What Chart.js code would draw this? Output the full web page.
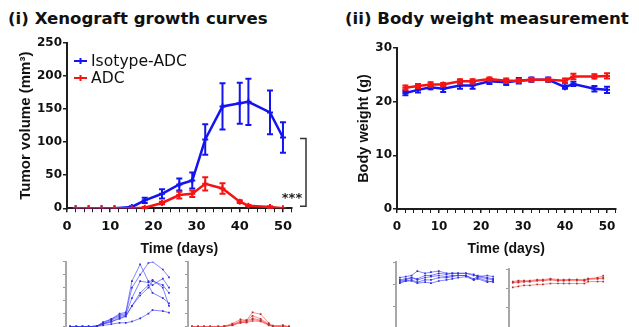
<!DOCTYPE html>
<html>
<head>
<meta charset="utf-8">
<script src="https://cdn.jsdelivr.net/npm/chart.js@4.4.0/dist/chart.umd.min.js"></script>
<style>
  html, body { margin: 0; padding: 0; background: #fff; overflow: hidden; }
  body { width: 639px; height: 327px; position: relative; }
  canvas { position: absolute; }
  .title { position: absolute; font-family: "DejaVu Sans"; font-weight: bold; font-size: 16.6px; line-height: 20px; white-space: nowrap; color: #111; }
</style>
</head>
<body>
<div class="title" style="left:8px;top:9px;">(i) Xenograft growth curves</div>
<div class="title" style="left:345px;top:9px;">(ii) Body weight measurement</div>
<canvas id="tumor" width="320" height="262" style="left:0;top:0"></canvas>
<canvas id="weight" width="319" height="262" style="left:320px;top:0"></canvas>
<canvas id="isoTumorThumb" width="130" height="90" style="left:56px;top:250px"></canvas>
<canvas id="adcTumorThumb" width="125" height="90" style="left:178px;top:250px"></canvas>
<canvas id="isoWeightThumb" width="115" height="90" style="left:386px;top:250px"></canvas>
<canvas id="adcWeightThumb" width="112" height="90" style="left:499px;top:250px"></canvas>
<script>
// measurement days
const days = [2, 5, 8, 11, 15, 18, 22, 26, 29, 32, 36, 40, 42, 47, 50];

// group means +/- SEM
const isoTumor    = [0, 0, 0, 0, 2, 12, 22, 36, 42, 104, 154, 159, 161, 145, 107];
const isoTumorErr = [0, 0, 0, 0, 1, 4, 7, 9, 12, 23, 35, 31, 35, 33, 23];
const adcTumor    = [0, 0, 0, 0, 0, 1, 8, 20, 22, 37, 30, 10, 4, 2, 0];
const adcTumorErr = [0, 0, 0, 0, 0, 1, 2, 5, 5, 10, 8, 2, 1, 1, 0];

const isoWeight    = [21.6, 22.2, 22.7, 22.4, 23.0, 23.0, 23.8, 23.6, 23.9, 24.1, 24.1, 22.7, 23.3, 22.4, 22.2];
const isoWeightErr = [0.4, 0.5, 0.4, 0.6, 0.6, 0.6, 0.5, 0.5, 0.5, 0.4, 0.4, 0.3, 0.4, 0.5, 0.6];
const adcWeight    = [22.6, 22.9, 23.2, 23.2, 23.8, 23.8, 24.2, 23.9, 23.9, 24.1, 24.1, 23.9, 24.7, 24.7, 24.8];
const adcWeightErr = [0.4, 0.4, 0.4, 0.3, 0.4, 0.4, 0.3, 0.4, 0.3, 0.3, 0.3, 0.4, 0.5, 0.4, 0.5];

// individual mice (small panels)
const isoTumorMice = [
  [0, 0, 0, 0, 3, 15, 30, 50, 55, 175, 240, 175, 160, 185, 150],
  [0, 0, 0, 0, 2, 18, 28, 45, 50, 150, 200, 245, 250, 220, 190],
  [0, 0, 0, 0, 2, 10, 25, 40, 45, 110, 175, 170, 180, 150, 80],
  [0, 0, 0, 0, 1, 12, 20, 30, 40, 80, 130, 160, 130, 110, 90],
  [0, 0, 0, 0, 2, 10, 18, 35, 40, 80, 120, 150, 175, 160, 130],
  [0, 0, 0, 0, 0, 5, 10, 15, 15, 20, 32, 50, 64, 60, 54]
];
const adcTumorMice = [
  [0, 0, 0, 0, 0, 2, 12, 28, 25, 55, 48, 14, 4, 2, 0],
  [0, 0, 0, 0, 0, 1, 8, 22, 24, 42, 30, 10, 2, 6, 0],
  [0, 0, 0, 0, 0, 0, 6, 18, 22, 32, 25, 8, 1, 1, 0],
  [0, 0, 0, 0, 0, 1, 8, 15, 18, 28, 22, 8, 2, 0, 0],
  [0, 0, 0, 0, 0, 0, 5, 16, 16, 22, 20, 5, 1, 0, 0]
];
const isoWeightMice = [
  [23.0, 23.5, 24.0, 26.0, 25.0, 25.5, 26.0, 25.0, 25.0, 25.0, 25.0, 24.5, 23.5, 24.0, 23.5],
  [22.0, 22.5, 23.0, 22.5, 24.0, 24.0, 25.0, 24.5, 25.0, 25.0, 25.0, 24.0, 24.0, 23.0, 22.5],
  [21.5, 22.0, 23.0, 22.0, 23.0, 23.5, 24.0, 23.5, 24.0, 24.0, 24.0, 22.5, 23.5, 22.5, 22.0],
  [21.0, 21.5, 22.0, 21.0, 22.0, 22.0, 23.0, 23.0, 23.5, 24.0, 24.0, 22.0, 23.0, 21.5, 21.0],
  [20.5, 21.5, 21.5, 20.5, 21.0, 20.5, 21.5, 22.0, 22.5, 23.0, 23.5, 22.0, 22.5, 21.0, 21.5]
];
const adcWeightMice = [
  [23.5, 24.0, 24.0, 24.0, 24.5, 24.5, 25.0, 24.5, 24.5, 24.5, 24.5, 24.5, 25.0, 25.5, 26.5],
  [23.0, 23.5, 23.5, 23.5, 24.0, 24.0, 24.5, 24.0, 24.0, 24.5, 24.5, 24.0, 25.0, 25.0, 25.5],
  [23.0, 23.0, 23.5, 23.5, 24.0, 24.0, 24.5, 24.0, 24.0, 24.0, 24.0, 24.0, 24.5, 25.0, 25.0],
  [20.5, 21.0, 21.5, 21.5, 22.0, 22.0, 22.5, 22.5, 22.5, 22.5, 22.5, 22.5, 23.5, 23.5, 23.5]
];

const groupLabels = ['Isotype-ADC', 'ADC'];
const BLUE = '#1414f0';
const RED = '#f51414';
const AXIS = '#1e1e1e';

const toPoints = vals => vals.map((v, i) => ({ x: days[i], y: v }));

// mean +/- SEM bars with caps
const errorBars = {
  id: 'errorBars',
  afterDatasetDraw(chart, args) {
    const ds = chart.data.datasets[args.index];
    if (!ds.errors) return;
    const { ctx, scales: { x, y } } = chart;
    ctx.save();
    ctx.strokeStyle = ds.borderColor;
    ctx.lineWidth = 2;
    ds.data.forEach((p, i) => {
      const e = ds.errors[i];
      if (!e) return;
      const px = x.getPixelForValue(p.x);
      const top = y.getPixelForValue(p.y + e);
      const bot = y.getPixelForValue(Math.max(0, p.y - e));
      ctx.beginPath();
      ctx.moveTo(px, top); ctx.lineTo(px, bot);
      ctx.moveTo(px - 3, top); ctx.lineTo(px + 3, top);
      ctx.moveTo(px - 3, bot); ctx.lineTo(px + 3, bot);
      ctx.stroke();
    });
    ctx.restore();
  }
};

// legend inside the plot, top left
const insetLegend = {
  id: 'insetLegend',
  afterDraw(chart, args, opts) {
    if (!opts.show) return;
    const ctx = chart.ctx;
    ctx.save();
    const order = [1, 0]; // Isotype-ADC first
    order.forEach((di, row) => {
      const ds = chart.data.datasets[di];
      const y = opts.y + row * opts.gap;
      ctx.strokeStyle = ds.borderColor;
      ctx.lineWidth = 2;
      ctx.beginPath();
      ctx.moveTo(opts.x, y); ctx.lineTo(opts.x + 13, y);
      ctx.moveTo(opts.x + 6.5, y - 3); ctx.lineTo(opts.x + 6.5, y + 3);
      ctx.stroke();
      ctx.fillStyle = '#111';
      ctx.font = '15.6px "DejaVu Sans"';
      ctx.textBaseline = 'middle';
      ctx.fillText(ds.label, opts.x + 17, y + 1);
    });
    ctx.restore();
  }
};

// significance bracket at the last time point
const sigBracket = {
  id: 'sigBracket',
  afterDraw(chart, args, opts) {
    if (!opts.show) return;
    const { ctx, scales: { y } } = chart;
    const top = y.getPixelForValue(isoTumor[isoTumor.length - 1]) + 1;
    const bot = y.getPixelForValue(adcTumor[adcTumor.length - 1] + 3);
    ctx.save();
    ctx.strokeStyle = '#333';
    ctx.lineWidth = 1.5;
    ctx.beginPath();
    ctx.moveTo(opts.x - 6, top); ctx.lineTo(opts.x, top);
    ctx.lineTo(opts.x, bot); ctx.lineTo(opts.x - 6, bot);
    ctx.stroke();
    ctx.fillStyle = '#222';
    ctx.font = 'bold 13px "DejaVu Sans"';
    ctx.textAlign = 'center';
    ctx.textBaseline = 'middle';
    ctx.fillText('***', opts.x - 14, bot - 8);
    ctx.restore();
  }
};

function meanSet(label, vals, errs, color) {
  return {
    label: label,
    data: toPoints(vals),
    errors: errs,
    borderColor: color,
    backgroundColor: color,
    borderWidth: 2.5,
    pointStyle: 'cross',
    pointRadius: 3,
    pointBorderWidth: 2,
    tension: 0
  };
}

function mainChart(id, cfg) {
  return new Chart(document.getElementById(id), {
    type: 'line',
    data: {
      // red first so it is painted on top
      datasets: [
        meanSet(groupLabels[1], cfg.adc, cfg.adcErr, RED),
        meanSet(groupLabels[0], cfg.iso, cfg.isoErr, BLUE)
      ]
    },
    options: {
      responsive: false,
      animation: false,
      events: [],
      layout: { padding: cfg.padding },
      plugins: {
        legend: { display: false },
        tooltip: { enabled: false },
        insetLegend: cfg.legend || { show: false },
        sigBracket: cfg.bracket || { show: false }
      },
      scales: {
        x: {
          type: 'linear', min: 0, max: 52,
          border: { color: AXIS, width: 2 },
          grid: { drawOnChartArea: false, tickLength: 4, color: AXIS,
                  lineWidth: c => (c.tick && c.tick.value % 10 === 0 ? 1.5 : 1) },
          ticks: { stepSize: 2, autoSkip: false, maxRotation: 0, padding: cfg.xTickPad,
                   color: '#111', font: { family: 'DejaVu Sans', weight: 'bold', size: cfg.xTickSize },
                   callback: v => (v % 10 === 0 ? v : '') },
          title: { display: true, text: 'Time (days)', color: '#111',
                   font: { family: 'Liberation Sans', weight: 'bold', size: 14 },
                   padding: { top: 0, bottom: 4.6 } },
          afterFit(s) { s.height = cfg.xHeight; }
        },
        y: {
          min: 0, max: cfg.yMax,
          border: { color: AXIS, width: 2 },
          grid: { drawOnChartArea: false, tickLength: 4, color: AXIS, lineWidth: 1.5 },
          ticks: { stepSize: cfg.yStep, padding: 1, color: '#111',
                   font: { family: 'DejaVu Sans', weight: 'bold', size: cfg.yTickSize } },
          title: { display: true, text: cfg.yTitle, color: '#111',
                   font: { family: 'Liberation Sans', weight: 'bold', size: cfg.yTitleSize },
                   padding: { top: cfg.yTitlePad, bottom: 0 } },
          afterFit(s) { s.width = cfg.yWidth; }
        }
      }
    },
    plugins: [errorBars, insetLegend, sigBracket]
  });
}

mainChart('tumor', {
  iso: isoTumor, isoErr: isoTumorErr, adc: adcTumor, adcErr: adcTumorErr,
  yMax: 250, yStep: 50, yTitle: 'Tumor volume (mm³)', yTitleSize: 15,
  padding: { top: 43, right: 28.4, bottom: 0, left: 0 },
  yWidth: 67, xHeight: 53.7, yTitlePad: 17, xTickPad: 7,
  xTickSize: 13, yTickSize: 12,
  legend: { show: true, x: 74, y: 61, gap: 17 },
  bracket: { show: true, x: 306 }
});

mainChart('weight', {
  iso: isoWeight, isoErr: isoWeightErr, adc: adcWeight, adcErr: adcWeightErr,
  yMax: 30, yStep: 10, yTitle: 'Body weight (g)', yTitleSize: 14.5,
  padding: { top: 48, right: 23.6, bottom: 0, left: 0 },
  yWidth: 77, xHeight: 53, yTitlePad: 35.3, xTickPad: 7,
  xTickSize: 12, yTickSize: 12
});

function thumb(id, mice, cfg) {
  return new Chart(document.getElementById(id), {
    type: 'line',
    data: {
      datasets: mice.map(m => ({
        data: toPoints(m),
        borderColor: cfg.line,
        borderWidth: 1,
        pointStyle: 'rect',
        pointRadius: 1.2,
        pointBorderWidth: 0,
        pointBackgroundColor: cfg.dot,
        tension: 0
      }))
    },
    options: {
      responsive: false,
      animation: false,
      events: [],
      layout: { padding: cfg.padding },
      plugins: { legend: { display: false }, tooltip: { enabled: false } },
      scales: {
        x: { type: 'linear', display: false, min: 0, max: cfg.xMax },
        y: {
          min: 0, max: cfg.yMax,
          border: { color: '#a8a8a8', width: 2 },
          grid: { drawOnChartArea: false, tickLength: 3, color: '#9a9a9a', lineWidth: 1 },
          ticks: { display: false, stepSize: cfg.yStep },
          afterFit(s) { s.width = 10; }
        }
      }
    }
  });
}

thumb('isoTumorThumb', isoTumorMice, {
  line: 'rgba(50,50,255,0.6)', dot: '#3030d8', yMax: 250, yStep: 50, xMax: 55,
  padding: { top: 11.7, right: 6.7, bottom: 13.3, left: 0 }
});
thumb('adcTumorThumb', adcTumorMice, {
  line: 'rgba(255,70,70,0.6)', dot: '#b03030', yMax: 250, yStep: 50, xMax: 55,
  padding: { top: 11.7, right: 1.7, bottom: 13.3, left: 0 }
});
thumb('isoWeightThumb', isoWeightMice, {
  line: 'rgba(50,50,255,0.6)', dot: '#3030d8', yMax: 30, yStep: 10, xMax: 52,
  padding: { top: 12.3, right: 3, bottom: 11.7, left: 0 }
});
thumb('adcWeightThumb', adcWeightMice, {
  line: 'rgba(255,70,70,0.6)', dot: '#b03030', yMax: 30, yStep: 10, xMax: 52,
  padding: { top: 19, right: 3.3, bottom: 13, left: 0 }
});
</script>
</body>
</html>
